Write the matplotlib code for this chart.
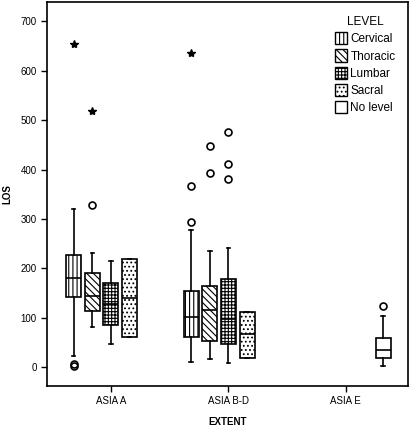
import matplotlib
matplotlib.use("Agg")
import matplotlib.pyplot as plt
from matplotlib.patches import Patch

plt.rcParams["font.family"] = "Liberation Sans"
plt.rcParams["hatch.linewidth"] = 0.8

# === DATA ===
extents = ["ASIA A", "ASIA B-D", "ASIA E"]
levels = ["Cervical", "Thoracic", "Lumbar", "Sacral", "No level"]
hatches = ["||||", "\\\\\\\\\\", "+++++", "....", ""]

# (extent index, level index, whislo, q1, med, q3, whishi, circles, stars)
boxes = [
    (0, 0, 22, 142, 181, 227, 321, [1, 6], [654]),
    (0, 1, 81, 113, 144, 191, 231, [329], [518]),
    (0, 2, 46, 86, 128, 171, 215, [], []),
    (0, 3, 60, 60, 139, 218, 218, [], []),
    (1, 0, 10, 60, 101, 153, 277, [293, 366], [637]),
    (1, 1, 16, 53, 115, 165, 235, [393, 447], []),
    (1, 2, 8, 46, 97, 178, 240, [381, 412, 477], []),
    (1, 3, 18, 18, 66, 111, 111, [], []),
    (2, 4, 1, 18, 34, 58, 103, [124], []),
]

step = 0.159
width = 0.128

fig = plt.figure(figsize=(4.12, 4.26), dpi=100, facecolor="white")
ax = fig.add_axes([0.114, 0.094, 0.876, 0.902])

for ext, lev, lo, q1, med, q3, hi, circ, stars in boxes:
    pos = ext + (lev - 2) * step
    stats = [dict(whislo=lo, q1=q1, med=med, q3=q3, whishi=hi, fliers=circ)]
    ax.bxp(stats, positions=[pos], widths=width, patch_artist=True,
           capwidths=0.03, manage_ticks=False,
           boxprops=dict(facecolor="white", edgecolor="black",
                         linewidth=1.2, hatch=hatches[lev]),
           medianprops=dict(color="black", linewidth=1.2),
           whiskerprops=dict(color="black", linewidth=1.2),
           capprops=dict(color="black", linewidth=1.2),
           flierprops=dict(marker="o", markerfacecolor="none",
                           markeredgecolor="black", markersize=5,
                           markeredgewidth=1.2))
    if stars:
        ax.plot([pos] * len(stars), stars, linestyle="none", marker="*",
                color="black", markersize=6)

ax.set_xlim(-0.545, 2.528)
ax.set_ylim(-38.5, 740)
ax.set_xticks(range(len(extents)))
ax.set_xticklabels(extents)
ax.set_yticks(range(0, 701, 100))
ax.tick_params(axis="both", labelsize=7, width=1.0, length=4, direction="out")
ax.set_xlabel("EXTENT", fontsize=7, fontweight="bold", labelpad=8)
ax.set_ylabel("LOS", fontsize=7, fontweight="bold", labelpad=6)
for s in ax.spines.values():
    s.set_linewidth(1.2)

handles = [Patch(facecolor="white", edgecolor="black", hatch=h, label=l)
           for h, l in zip(hatches, levels)]
leg = ax.legend(handles=handles, title="LEVEL", loc="upper right",
                bbox_to_anchor=(0.995, 0.99), frameon=False, fontsize=8.5,
                title_fontsize=8.5, handlelength=1.0, handleheight=1.2,
                handletextpad=0.3, labelspacing=0.35)

fig.savefig("out.png", dpi=100, facecolor="white")
